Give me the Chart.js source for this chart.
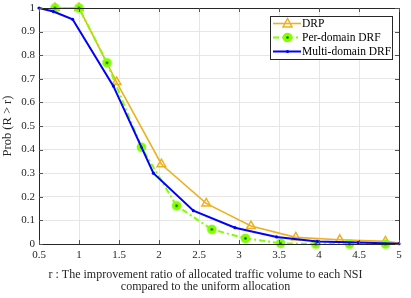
<!DOCTYPE html>
<html>
<head>
<meta charset="utf-8">
<script src="https://cdn.jsdelivr.net/npm/chart.js@4"></script>
<style>
html,body{margin:0;padding:0;background:#fff;}
#wrap{width:411px;height:298px;position:relative;}
</style>
</head>
<body>
<div id="wrap"><canvas id="c" width="411" height="298"></canvas></div>
<script>
// ---- data ----
const drpR   = [0.70, 1.00, 1.47, 2.03, 2.59, 3.15, 3.71, 4.26, 4.83, 5.00];
const drpP   = [1.00, 1.00, 0.686, 0.338, 0.172, 0.076, 0.028, 0.018, 0.011, 0.004];
const perR   = [0.70, 1.00, 1.35, 1.78, 2.22, 2.66, 3.08, 3.52, 3.96, 4.38, 4.83];
const perP   = [1.00, 1.00, 0.768, 0.410, 0.162, 0.062, 0.024, 0.003, 0.000, 0.000, 0.000];
const multiR = [0.50, 0.68, 0.92, 1.43, 1.93, 2.43, 2.95, 3.47, 3.98, 4.49, 5.00];
const multiP = [1.00, 0.985, 0.952, 0.669, 0.300, 0.141, 0.069, 0.030, 0.011, 0.006, 0.001];
const seriesNames = ["DRP", "Per-domain DRF", "Multi-domain DRF"];
const xTicks = [0.5, 1, 1.5, 2, 2.5, 3, 3.5, 4, 4.5, 5];
const yTicks = [0, 0.1, 0.2, 0.3, 0.4, 0.5, 0.6, 0.7, 0.8, 0.9, 1];
const xTitle = ["r : The improvement ratio of allocated traffic volume to each NSI", "compared to the uniform allocation"];
const yTitle = "Prob (R > r)";

const ORANGE = '#EDB120', GREEN = '#80FF00', BLUE = '#0000FF';
const FONT = "'Liberation Serif', 'Times New Roman', serif";

function pts(xs, ys){ return xs.map((x,i)=>({x:x, y:ys[i]})); }

// green circle marker with dark centre
const greenMark = document.createElement('canvas');
greenMark.width = 11; greenMark.height = 11;
(function(){
  const g = greenMark.getContext('2d');
  g.fillStyle = GREEN;
  g.beginPath(); g.arc(5.5,5.5,4.8,0,Math.PI*2); g.fill();
  g.fillStyle = '#1f5a00';
  g.beginPath(); g.arc(5.5,5.5,1.3,0,Math.PI*2); g.fill();
})();

const drpRadius = drpR.map((r,i)=> i === drpR.length-1 ? 0 : 5);

const frame = {
  id:'frame',
  afterDraw(chart){
    const ctx = chart.ctx, a = chart.chartArea;
    const xs = chart.scales.x, ys = chart.scales.y;
    ctx.save();
    ctx.strokeStyle = '#262626';
    ctx.lineWidth = 1;
    ctx.strokeRect(Math.round(a.left)+0.5, Math.round(a.top)+0.5, Math.round(a.right-a.left), Math.round(a.bottom-a.top));
    ctx.strokeStyle = '#555';
    ctx.beginPath();
    xTicks.forEach(v=>{
      const px = Math.round(xs.getPixelForValue(v))+0.5;
      ctx.moveTo(px, a.bottom); ctx.lineTo(px, a.bottom-4);
      ctx.moveTo(px, a.top); ctx.lineTo(px, a.top+4);
    });
    yTicks.forEach(v=>{
      const py = Math.round(ys.getPixelForValue(v))+0.5;
      ctx.moveTo(a.left, py); ctx.lineTo(a.left+4, py);
      ctx.moveTo(a.right, py); ctx.lineTo(a.right-4, py);
    });
    ctx.stroke();

    // x-axis title (centred on the figure)
    ctx.fillStyle = '#262626';
    ctx.font = "12px " + FONT;
    ctx.textAlign = 'center';
    ctx.textBaseline = 'middle';
    ctx.fillText(xTitle[0], chart.width/2, 275);
    ctx.fillText(xTitle[1], chart.width/2, 287);

    // legend
    const bx = 270.5, by = 16.5, bw = 122, bh = 43;
    ctx.fillStyle = '#fff';
    ctx.fillRect(bx, by, bw, bh);
    ctx.strokeStyle = '#262626';
    ctx.strokeRect(bx, by, bw, bh);
    const rows = [23.5, 37.5, 51.5];
    const ds = chart.data.datasets;
    ctx.font = "11.5px " + FONT;
    ctx.textBaseline = 'middle';
    ctx.textAlign = 'left';
    rows.forEach((ry,i)=>{
      const d = ds[i];
      ctx.save();
      ctx.strokeStyle = d.borderColor;
      ctx.lineWidth = d.borderWidth;
      ctx.setLineDash(d.borderDash || []);
      ctx.beginPath(); ctx.moveTo(273, ry); ctx.lineTo(301, ry); ctx.stroke();
      ctx.restore();
      if (i === 0) {
        ctx.save();
        ctx.strokeStyle = ORANGE; ctx.lineWidth = 1.5;
        ctx.beginPath();
        ctx.moveTo(287.5, ry-5); ctx.lineTo(292, ry+3.5); ctx.lineTo(283, ry+3.5); ctx.closePath();
        ctx.stroke();
        ctx.restore();
      } else if (i === 1) {
        ctx.drawImage(greenMark, 287.5-5.5, ry-5.5);
      } else {
        ctx.fillStyle = BLUE;
        ctx.beginPath(); ctx.arc(287.5, ry, 1.6, 0, Math.PI*2); ctx.fill();
      }
      ctx.fillStyle = '#000';
      ctx.fillText(seriesNames[i], 302, ry+0.5);
    });
    ctx.restore();
  }
};

new Chart(document.getElementById('c'), {
  type: 'line',
  data: {
    datasets: [
      { label: seriesNames[0], data: pts(drpR, drpP), borderColor: ORANGE, borderWidth: 1.6,
        pointStyle: 'triangle', pointRadius: drpRadius, pointBorderColor: ORANGE, pointBackgroundColor: 'rgba(0,0,0,0)',
        pointBorderWidth: 1.5, fill: false, tension: 0, order: 3, clip: false },
      { label: seriesNames[1], data: pts(perR, perP), borderColor: GREEN, borderWidth: 2,
        borderDash: [6,3,2,3], pointStyle: greenMark, pointRadius: 5, fill: false, tension: 0, order: 2, clip: false },
      { label: seriesNames[2], data: pts(multiR, multiP), borderColor: BLUE, borderWidth: 2,
        pointStyle: 'circle', pointRadius: 1.6, pointBackgroundColor: BLUE, pointBorderWidth: 0,
        fill: false, tension: 0, order: 1, clip: false }
    ]
  },
  options: {
    responsive: false,
    animation: false,
    events: [],
    layout: { padding: { top: 8, right: 12, left: 0, bottom: 0 } },
    plugins: { legend: { display: false }, tooltip: { enabled: false } },
    scales: {
      x: {
        type: 'linear', min: 0.5, max: 5,
        afterBuildTicks(s){ s.ticks = xTicks.map(v=>({value:v})); },
        afterFit(s){ s.height = 54; s.paddingLeft = 0; s.paddingRight = 0; },
        ticks: { color: '#262626', font: { family: FONT, size: 11 }, padding: 5, maxRotation: 0,
                 callback: v => String(v) },
        grid: { color: '#e6e6e6', lineWidth: 1, drawTicks: false },
        border: { display: false },
        title: { display: false }
      },
      y: {
        type: 'linear', min: 0, max: 1,
        afterBuildTicks(s){ s.ticks = yTicks.map(v=>({value:v})); },
        afterFit(s){ s.width = 39; s.paddingTop = 0; s.paddingBottom = 0; },
        ticks: { color: '#262626', font: { family: FONT, size: 11 }, padding: 4,
                 callback: v => String(Math.round(v*10)/10) },
        grid: { color: '#e6e6e6', lineWidth: 1, drawTicks: false },
        border: { display: false },
        title: { display: true, text: yTitle, color: '#262626', font: { family: FONT, size: 12.5, lineHeight: 1.1 },
                 padding: { top: 1, bottom: 0 } }
      }
    }
  },
  plugins: [frame]
});
</script>
</body>
</html>
